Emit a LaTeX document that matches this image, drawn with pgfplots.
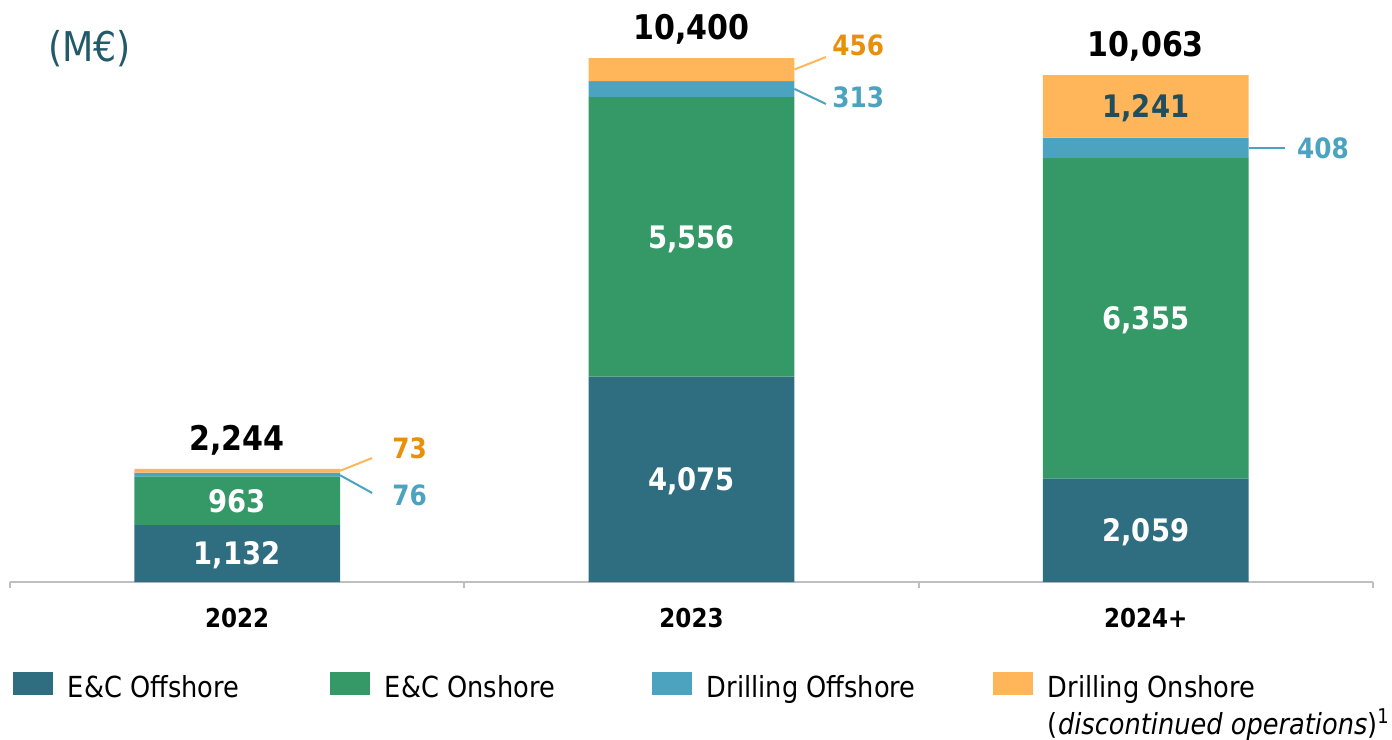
\documentclass[border=0pt]{standalone}
\usepackage{fontspec}
\setmainfont{DejaVu Sans}[FakeStretch=0.885]
\usepackage{pgfplots}
\pgfplotsset{compat=1.18}

\definecolor{ecoff}{HTML}{2E6E80}
\definecolor{econ}{HTML}{349966}
\definecolor{drloff}{HTML}{4BA3C0}
\definecolor{drlon}{HTML}{FFB559}
\definecolor{orangetxt}{HTML}{E8900C}
\definecolor{darktxt}{HTML}{1F4E5E}
\definecolor{unittxt}{HTML}{235A6B}
\definecolor{axisgray}{HTML}{BFBFBF}

\pgfplotsset{
  sqleg/.style={legend image code/.code={\fill[##1] (0pt,1.5pt) rectangle (20pt,13pt);}},
}
\tikzset{
  inl/.style={font=\fontsize{15.5}{15.5}\selectfont\bfseries, text=white, text depth=0pt, inner sep=0pt, anchor=center},
  outl/.style={font=\fontsize{14}{14}\selectfont\bfseries, text depth=0pt, inner sep=0pt, anchor=west},
  tot/.style={font=\fontsize{17}{17}\selectfont\bfseries, inner sep=0pt, anchor=base, yshift=9.3pt},
  lead/.style={line width=1pt},
}

\begin{document}
\begin{tikzpicture}
\path[use as bounding box] (-5pt,-78.5pt) rectangle (691pt,291pt);
\begin{axis}[
    at={(0,0)}, anchor=south west,
    scale only axis, width=681.5pt, height=291pt,
    xmin=-0.5, xmax=2.5, ymin=0, ymax=11552,
    ybar stacked, bar width=0.453,
    reverse stacked plots=false,
    axis x line*=bottom, axis y line=none,
    x axis line style={draw=axisgray, line width=0.9pt, -},
    xtick={0,1,2}, xticklabels={2022,2023,2024+},
    major tick length=0pt,
    minor xtick={-0.5,0.5,1.5,2.5}, minor tick length=3pt, tick align=outside,
    minor tick style={draw=axisgray, line width=0.9pt},
    xticklabel style={font=\fontsize{13}{13}\selectfont\bfseries, inner sep=0pt, text depth=0pt, anchor=north},
    xticklabel shift=13pt,
    clip=false,
    legend columns=4,
    legend style={draw=none, fill=none, at={(0.0022,-0.1546)}, anchor=north west,
        inner sep=0pt, outer sep=0pt, font=\fontsize{14.5}{18}\selectfont,
        nodes={inner sep=0pt}, cells={anchor=base west},
        /tikz/every odd column/.append style={column sep=7.5pt}},
]
\addplot[fill=ecoff, draw=none, sqleg] coordinates {(0,1132) (1,4075) (2,2059)};
\addlegendentry{\makebox[131pt][l]{E\&C Offshore}}
\addplot[fill=econ, draw=none, sqleg] coordinates {(0,963) (1,5556) (2,6355)};
\addlegendentry{\makebox[133.5pt][l]{E\&C Onshore}}
\addplot[fill=drloff, draw=none, sqleg] coordinates {(0,76) (1,313) (2,408)};
\addlegendentry{\makebox[143pt][l]{Drilling Offshore}}
\addplot[fill=drlon, draw=none, sqleg] coordinates {(0,73) (1,456) (2,1241)};
\addlegendentry{\begin{tabular}[t]{@{}l@{}}Drilling Onshore\\(\textit{discontinued operations})\textsuperscript{1}\end{tabular}}

% unit
\node[font=\fontsize{20.5}{20.5}\selectfont, text=unittxt, anchor=base west, inner sep=0pt] at (axis cs:-0.4164,10322) {(M€)};

% totals
\node[tot] at (axis cs:0,2244) {2,244};
\node[tot] at (axis cs:1,10400) {10,400};
\node[tot] at (axis cs:2,10063) {10,063};

% inside labels
\node[inl] at (axis cs:0,566) {1,132};
\node[inl] at (axis cs:0,1613.5) {963};
\node[inl] at (axis cs:1,2037.5) {4,075};
\node[inl] at (axis cs:1,6853) {5,556};
\node[inl] at (axis cs:2,1029.5) {2,059};
\node[inl] at (axis cs:2,5236.5) {6,355};
\node[inl, text=darktxt] at (axis cs:2,9442.5) {1,241};

% leaders and outside labels
\draw[drlon, lead] (axis cs:0.2265,2207) -- (axis cs:0.297,2461);
\draw[drloff, lead] (axis cs:0.2265,2120) -- (axis cs:0.297,1767);
\draw[drlon, lead] (axis cs:1.2265,10172) -- (axis cs:1.296,10421);
\draw[drloff, lead] (axis cs:1.2265,9787) -- (axis cs:1.296,9488);
\draw[drloff, lead] (axis cs:2.2265,8618) -- (axis cs:2.306,8618);
\node[outl, text=orangetxt] at (axis cs:0.341,2660) {73};
\node[outl, text=drloff] at (axis cs:0.341,1727) {76};
\node[outl, text=orangetxt] at (axis cs:1.309,10659) {456};
\node[outl, text=drloff] at (axis cs:1.309,9627) {313};
\node[outl, text=drloff] at (axis cs:2.332,8618) {408};
\end{axis}
\end{tikzpicture}
\end{document}
